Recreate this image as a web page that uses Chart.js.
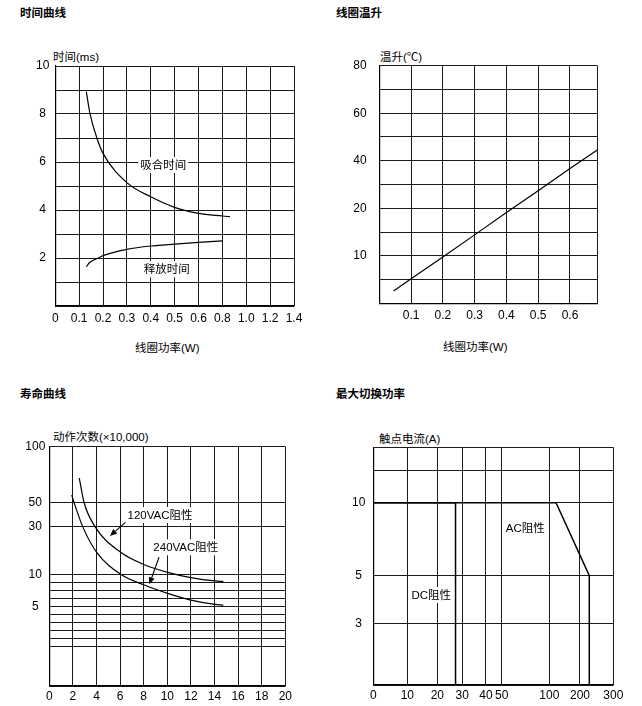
<!DOCTYPE html>
<html><head><meta charset="utf-8">
<script src="https://cdn.jsdelivr.net/npm/chart.js@4"></script>
<style>
html,body{margin:0;padding:0;background:#fff;width:642px;height:706px;overflow:hidden;}
body{position:relative;font-family:"Liberation Sans","Noto Sans CJK SC",sans-serif;color:#000;}
canvas{position:absolute;}
.t{position:absolute;font-size:11.5px;line-height:14px;white-space:nowrap;transform:translateY(-50%);}
.h{font-weight:bold;}
</style></head><body>
<div class="t h" style="left:20px;top:13px">时间曲线</div>
<div class="t h" style="left:336px;top:13px">线圈温升</div>
<div class="t h" style="left:20px;top:394px">寿命曲线</div>
<div class="t h" style="left:336px;top:394px">最大切换功率</div>
<div class="t" style="left:53px;top:57px">时间(ms)</div>
<div class="t" style="left:380px;top:57px">温升(℃)</div>
<div class="t" style="left:53px;top:437px">动作次数(×10,000)</div>
<div class="t" style="left:379px;top:439px">触点电流(A)</div>
<div class="t" style="left:135px;top:348px">线圈功率(W)</div>
<div class="t" style="left:443px;top:347px">线圈功率(W)</div>
<canvas id="c1" width="321" height="330" style="left:0;top:0;width:321px;height:330px"></canvas>
<canvas id="c2" width="321" height="330" style="left:321px;top:0;width:321px;height:330px"></canvas>
<canvas id="c3" width="321" height="346" style="left:0;top:360px;width:321px;height:346px"></canvas>
<canvas id="c4" width="321" height="346" style="left:321px;top:360px;width:321px;height:346px"></canvas>
<script>
// ===== Panel 1: 时间曲线 =====
const timeXTickValues = [0, 0.1, 0.2, 0.3, 0.4, 0.5, 0.6, 0.8, 1.0, 1.2, 1.4];
const timeXTickLabels = ['0', '0.1', '0.2', '0.3', '0.4', '0.5', '0.6', '0.8', '1.0', '1.2', '1.4'];
const timeYTickLabels = ['2', '4', '6', '8', '10'];
const pullInPower = [0.13, 0.145, 0.176, 0.2, 0.3, 0.4, 0.5, 0.6, 0.8, 0.864];
const pullInTime  = [8.93, 8.03, 6.95, 6.36, 5.14, 4.55, 4.11, 3.86, 3.75, 3.72];
const releasePower = [0.13, 0.145, 0.18, 0.2, 0.3, 0.4, 0.5, 0.6, 0.8];
const releaseTime  = [1.64, 1.82, 2.0, 2.1, 2.36, 2.5, 2.58, 2.65, 2.71];
const timeNotes = [
  {text: '吸合时间', x: 0.452, y: 5.875},
  {text: '释放时间', x: 0.467, y: 1.53}
];

// ===== Panel 2: 线圈温升 =====
const tempXMax = 0.686;
const tempXTickValues = [0, 0.1, 0.2, 0.3, 0.4, 0.5, 0.6];
const tempXTickLabels = ['', '0.1', '0.2', '0.3', '0.4', '0.5', '0.6'];
const tempYTickValues = [0, 10, 20, 40, 60, 80];
const tempYTickLabels = ['', '10', '20', '40', '60', '80'];
const tempPower = [0.045, 0.1, 0.2, 0.3, 0.4, 0.5, 0.6, 0.686];
const tempRise  = [2.6, 5.15, 9.75, 14.4, 19.1, 27.4, 36.7, 44.5];

// ===== Panel 3: 寿命曲线 =====
const lifeYTickValues = [5, 10, 30, 50, 100];
const lifeYTickLabels = ['5', '10', '30', '50', '100'];
const lifeX120 = [2.54, 2.94, 3.87, 6.05, 8.05, 10.03, 12.0, 14.04, 14.75];
const lifeY120 = [71.6, 50, 30, 19.2, 14.0, 10.8, 9.48, 8.96, 8.89];
const lifeX240 = [1.9, 2.09, 2.83, 4.0, 6.05, 8.05, 10.03, 12.0, 14.04, 14.75];
const lifeY240 = [56.5, 50, 30, 19.3, 10, 8.33, 7.04, 6.0, 5.34, 5.22];
const lifeNotes = [
  {text: '120VAC阻性', x: 9.38, y: 39.5},
  {text: '240VAC阻性', x: 11.57, y: 21.3}
];
const lifeArrows = [
  {x1: 6.69, y1: 35.5, x2: 5.14, y2: 26.1},
  {x1: 9.3, y1: 17.2, x2: 8.48, y2: 8.44}
];

// ===== Panel 4: 最大切换功率 =====
const swXTickValues = [0, 10, 20, 30, 40, 50, 100, 200, 300];
const swXTickLabels = ['0', '10', '20', '30', '40', '50', '100', '200', '300'];
const swYTickValues = [0, 3, 5, 10];
const swYTickLabels = ['', '3', '5', '10'];
const dcVoltage = [0, 27.3, 27.3];
const dcCurrent = [10, 10, 0];
const acVoltage = [0, 122, 228, 228];
const acCurrent = [10, 10, 5, 0];
const swNotes = [
  {text: 'AC阻性', x: 74.8, y: 8.24},
  {text: 'DC阻性', x: 18.0, y: 4.19}
];

// ===== axis calibration (stylised, non-uniform datasheet axes) =====
const timeXPos = [0, 1, 2, 3, 4, 5, 6, 7, 8, 9, 10];
const tempYPos = [0, 2, 4, 6, 8, 10];
const lifeYPos = [33.2, 46.7, 66.6, 76.8, 100];
const lifeYGridPos = [0, 16.4, 19.8, 23.1, 26.5, 29.8, 33.2, 36.6, 40.0, 43.3, 46.7, 66.6, 76.8, 100];
const swXPos = [0, 14.17, 26.67, 37.08, 46.94, 53.47, 73.33, 86.11, 100];
const swYPos = [0, 25.95, 46.0, 76.72];
const swYGridPos = [0, 25.95, 46.0, 76.72, 90.04, 100];

function pw(v, vals, poss) {
  const n = vals.length;
  let i = 0;
  while (i < n - 2 && v > vals[i + 1]) i++;
  return poss[i] + (v - vals[i]) / (vals[i + 1] - vals[i]) * (poss[i + 1] - poss[i]);
}
function labelAt(v, poss, labels) {
  for (let i = 0; i < poss.length; i++) if (Math.abs(poss[i] - v) < 1e-6) return labels[i];
  return '';
}

const GRID = '#1c1c1c';
const TICKFONT = {family: '"Liberation Sans", Arial, sans-serif', size: 12};
const NOTEFONT = '11.5px "Liberation Sans", "Noto Sans CJK SC", sans-serif';

function notesPlugin(notes, arrows, mapX, mapY) {
  return {
    id: 'notes',
    afterDatasetsDraw(chart) {
      const ctx = chart.ctx, xs = chart.scales.x, ys = chart.scales.y;
      ctx.save();
      (arrows || []).forEach(a => {
        const x1 = xs.getPixelForValue(mapX(a.x1)), y1 = ys.getPixelForValue(mapY(a.y1));
        const x2 = xs.getPixelForValue(mapX(a.x2)), y2 = ys.getPixelForValue(mapY(a.y2));
        const ang = Math.atan2(y2 - y1, x2 - x1), L = 7, W = 3;
        ctx.strokeStyle = '#000'; ctx.lineWidth = 1.1;
        ctx.beginPath(); ctx.moveTo(x1, y1);
        ctx.lineTo(x2 - L * Math.cos(ang), y2 - L * Math.sin(ang)); ctx.stroke();
        ctx.fillStyle = '#000';
        ctx.beginPath(); ctx.moveTo(x2, y2);
        ctx.lineTo(x2 - L * Math.cos(ang) + W * Math.sin(ang), y2 - L * Math.sin(ang) - W * Math.cos(ang));
        ctx.lineTo(x2 - L * Math.cos(ang) - W * Math.sin(ang), y2 - L * Math.sin(ang) + W * Math.cos(ang));
        ctx.closePath(); ctx.fill();
      });
      ctx.font = NOTEFONT; ctx.textAlign = 'center'; ctx.textBaseline = 'middle';
      notes.forEach(n => {
        const px = xs.getPixelForValue(mapX(n.x)), py = ys.getPixelForValue(mapY(n.y));
        const w = ctx.measureText(n.text).width;
        ctx.fillStyle = '#fff';
        ctx.fillRect(px - w / 2 - 2, py - 8, w + 4, 16);
        ctx.fillStyle = '#000';
        ctx.fillText(n.text, px, py + 0.5);
      });
      ctx.restore();
    }
  };
}

function lineDS(xs, ys, mapX, mapY, opts) {
  return Object.assign({
    data: xs.map((x, i) => ({x: mapX(x), y: mapY(ys[i])})),
    showLine: true, borderColor: '#000', borderWidth: 1.2, pointRadius: 0,
    fill: false, cubicInterpolationMode: 'monotone'
  }, opts || {});
}

function axis(o) {
  const isX = o.axis === 'x';
  return {
    type: 'linear', min: o.min, max: o.max,
    afterFit: s => {
      if (isX) { s.height = o.size; s.paddingLeft = 0; s.paddingRight = 0; }
      else { s.width = o.size; s.paddingTop = 0; s.paddingBottom = 0; }
    },
    afterBuildTicks: o.tickPos ? (s => { s.ticks = o.tickPos.map(v => ({value: v})); }) : undefined,
    ticks: {
      stepSize: o.step, autoSkip: false, maxRotation: 0, minRotation: 0,
      padding: o.pad, color: '#000', font: TICKFONT,
      crossAlign: o.cross || 'near',
      callback: o.cb
    },
    grid: {color: GRID, lineWidth: 1, drawTicks: false},
    border: {color: '#000', width: 1.2}
  };
}

function baseOpts(pad, xAxis, yAxis) {
  return {
    responsive: false, animation: false, events: [],
    layout: {padding: pad},
    plugins: {legend: {display: false}, tooltip: {enabled: false}, title: {display: false}},
    scales: {x: xAxis, y: yAxis}
  };
}

// ---- Chart 1 ----
const m1x = w => pw(w, timeXTickValues, timeXPos);
const m1y = v => v;
new Chart(document.getElementById('c1'), {
  type: 'scatter',
  data: {datasets: [
    lineDS(pullInPower, pullInTime, m1x, m1y),
    lineDS(releasePower, releaseTime, m1x, m1y)
  ]},
  options: baseOpts({left: 0, top: 66, right: 27, bottom: 0},
    axis({axis: 'x', min: 0, max: 10, step: 1, size: 24, pad: 5, cb: v => timeXTickLabels[Math.round(v)]}),
    axis({axis: 'y', min: 0, max: 10, step: 1, size: 55.3, pad: 6, cross: 'center',
      cb: v => (v % 2 === 0 && v > 0) ? timeYTickLabels[v / 2 - 1] : ''})),
  plugins: [notesPlugin(timeNotes, null, m1x, m1y)]
});

// ---- Chart 2 ----
const m2x = v => v;
const m2y = v => pw(v, tempYTickValues, tempYPos);
new Chart(document.getElementById('c2'), {
  type: 'scatter',
  data: {datasets: [
    lineDS(tempPower, tempRise, m2x, m2y, {cubicInterpolationMode: 'default', tension: 0})
  ]},
  options: baseOpts({left: 0, top: 65.7, right: 44.7, bottom: 0},
    axis({axis: 'x', min: 0, max: tempXMax, size: 26.7, pad: 5,
      tickPos: tempXTickValues.concat([tempXMax]),
      cb: v => labelAt(v, tempXTickValues, tempXTickLabels)}),
    axis({axis: 'y', min: 0, max: 10, step: 1, size: 58.3, pad: 12.6,
      cb: v => labelAt(v, tempYPos, tempYTickLabels)})),
  plugins: []
});

// ---- Chart 3 ----
const m3x = v => v;
const m3y = v => pw(v, lifeYTickValues, lifeYPos);
new Chart(document.getElementById('c3'), {
  type: 'scatter',
  data: {datasets: [
    lineDS(lifeX120, lifeY120, m3x, m3y),
    lineDS(lifeX240, lifeY240, m3x, m3y)
  ]},
  options: baseOpts({left: 0, top: 86.7, right: 35.7, bottom: 0},
    axis({axis: 'x', min: 0, max: 20, step: 2, size: 20, pad: 3, cb: v => String(v)}),
    axis({axis: 'y', min: 0, max: 100, size: 49.3, pad: 4, cross: 'center', tickPos: lifeYGridPos,
      cb: v => labelAt(v, lifeYPos, lifeYTickLabels)})),
  plugins: [notesPlugin(lifeNotes, lifeArrows, m3x, m3y)]
});

// ---- Chart 4 ----
const m4x = v => pw(v, swXTickValues, swXPos);
const m4y = v => pw(v, swYTickValues, swYPos);
new Chart(document.getElementById('c4'), {
  type: 'scatter',
  data: {datasets: [
    lineDS(dcVoltage, dcCurrent, m4x, m4y, {cubicInterpolationMode: 'default', tension: 0, borderWidth: 1.5}),
    lineDS(acVoltage, acCurrent, m4x, m4y, {cubicInterpolationMode: 'default', tension: 0, borderWidth: 1.5})
  ]},
  options: baseOpts({left: 0, top: 87.3, right: 28.7, bottom: 0},
    axis({axis: 'x', min: 0, max: 100, size: 21, pad: 3, tickPos: swXPos,
      cb: v => labelAt(v, swXPos, swXTickLabels)}),
    axis({axis: 'y', min: 0, max: 100, size: 52.3, pad: 8, cross: 'center', tickPos: swYGridPos,
      cb: v => labelAt(v, swYPos, swYTickLabels)})),
  plugins: [notesPlugin(swNotes, null, m4x, m4y)]
});
</script>
</body></html>
